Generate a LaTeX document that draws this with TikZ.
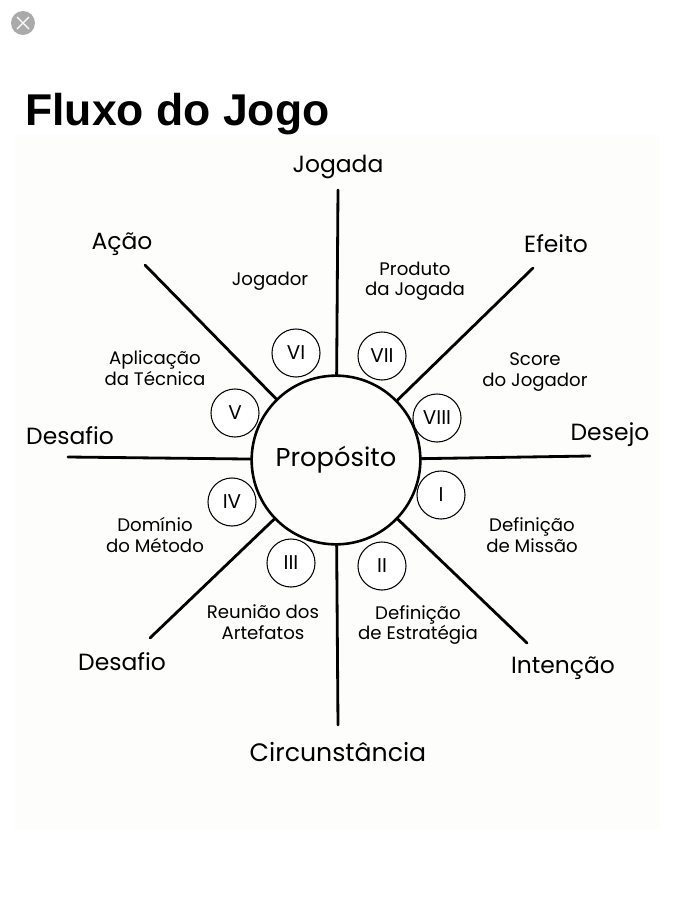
\documentclass[tikz,border=0pt]{standalone}
\usepackage{fontspec}
\setmainfont{Poppins}
\newfontfamily\titulofont{Liberation Sans}
\usetikzlibrary{positioning,calc}
\definecolor{fundo}{RGB}{253,253,251}
\definecolor{cinzabotao}{RGB}{170,170,170}
\tikzset{
  raio/.style={line width=2.4pt,line cap=round},
  rotulo/.style={font=\fontsize{20}{22}\selectfont,inner sep=0pt},
  texto/.style={font=\fontsize{15.5}{17.5}\selectfont,align=center,inner sep=0pt},
  bola/.style={circle,draw,line width=0.9pt,minimum size=41pt,inner sep=0pt,
    font=\fontsize{17}{19}\selectfont,fill=white},
}

\begin{document}
\begin{tikzpicture}[x=0.3mm,y=-0.3mm]
  \useasboundingbox (0,0) rectangle (675,900);
  \fill[white] (0,0) rectangle (675,900);
  \fill[fundo] (15,135) rectangle (660,830);

  % botao de fechar
  \fill[cinzabotao] (23,23) circle (12);
  \draw[white,line width=1.2pt] (17,17) -- (29,29) (17,29) -- (29,17);

  % titulo
  \node[anchor=base west,inner sep=0pt,
    font=\titulofont\bfseries\fontsize{38}{40}\selectfont] (titulo) at (25,125) {Fluxo do Jogo};

  % circulo central
  \node[circle,draw,line width=2.2pt,minimum size=144pt,inner sep=0pt,
    font=\fontsize{22}{24}\selectfont] (prop) at (336,460) {Propósito};

  % pontas dos raios
  \coordinate (n)  at (338,190);
  \coordinate (s)  at (338,725);
  \coordinate (o)  at (68,457);
  \coordinate (l)  at (590,456);
  \coordinate (no) at (145,265);
  \coordinate (ne) at (533,268);
  \coordinate (so) at (150,638);
  \coordinate (se) at (527,643);
  \foreach \p in {n,s,o,l,no,ne,so,se}
    \draw[raio] (\p) -- (prop);

  % numeros
  \node[bola] (b1) at (441,495) {I};
  \node[bola] (b2) at (382,566) {II};
  \node[bola] (b3) at (291,563) {III};
  \node[bola] (b4) at (232,502) {IV};
  \node[bola] (b5) at (235,413) {V};
  \node[bola] (b6) at (296,353) {VI};
  \node[bola] (b7) at (382,356) {VII};
  \node[bola] (b8) at (437,418) {VIII};

  % rotulos externos
  \node[rotulo] (jogada) at (338,167) {Jogada};
  \node[rotulo] (efeito) at (556,244) {Efeito};
  \node[rotulo] (desejo) at (610,435) {Desejo};
  \node[rotulo] (intencao) at (563,668) {Intenção};
  \node[rotulo,font=\fontsize{21.5}{23}\selectfont] (circ) at (338,752) {Circunstância};
  \node[rotulo] (desafio2) at (122,662) {Desafio};
  \node[rotulo] (desafio1) at (70,436) {Desafio};
  \node[rotulo] (acao) at (122,244) {Ação};

  % rotulos internos
  \node[texto] (t6) at (270,281) {Jogador};
  \node[texto] (t7) at (415,281) {Produto\\da Jogada};
  \node[texto] (t8) at (535,372) {Score\\do Jogador};
  \node[texto] (t1) at (532,535) {Definição\\de Missão};
  \node[texto] (t2) at (418,625) {Definição\\de Estratégia};
  \node[texto] (t3) at (263,622) {Reunião dos\\Artefatos};
  \node[texto] (t4) at (155,535) {Domínio\\do Método};
  \node[texto] (t5) at (155,368) {Aplicação\\da Técnica};
\end{tikzpicture}
\end{document}
